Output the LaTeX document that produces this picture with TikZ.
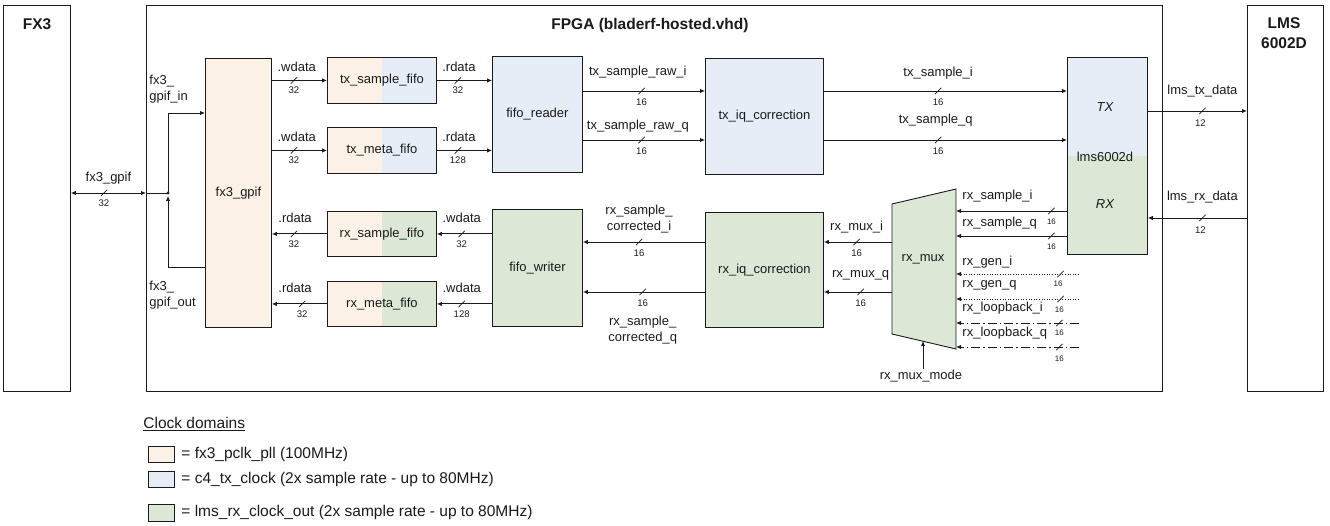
\documentclass[tikz,border=0pt]{standalone}
\usepackage{fontspec}
\setmainfont{Liberation Sans}
\usetikzlibrary{arrows.meta}
\definecolor{cO}{HTML}{FCF1E6}
\definecolor{cB}{HTML}{E6EDF7}
\definecolor{cG}{HTML}{DCE8D5}
\definecolor{ink}{HTML}{1A1A1A}
\newcommand\lblf{\fontsize{13}{16}\selectfont}
\newcommand\numf{\fontsize{9.6}{11}\selectfont}
\newcommand\snumf{\fontsize{8}{9}\selectfont}
\newcommand\ttlf{\fontsize{15.5}{20}\selectfont\bfseries}
\newcommand\lgdf{\fontsize{15.5}{18}\selectfont}
\newcommand\slsh{\rule{0.7pt}{9pt}}
\tikzset{
  blk/.style={draw=ink, anchor=north west, inner sep=0pt, align=center, text=ink},
  splitOB/.style={fill=cO, path picture={\fill[cB] (path picture bounding box.north) rectangle (path picture bounding box.south east);}},
  splitOG/.style={fill=cO, path picture={\fill[cG] (path picture bounding box.north) rectangle (path picture bounding box.south east);}},
  splitBG/.style={fill=cG, path picture={\fill[cB] (path picture bounding box.north west) rectangle (path picture bounding box.east);}},
  sig/.style={draw=ink, -{Latex[length=5pt,width=4.5pt]}},
  lab/.style={inner sep=0pt, font=\lblf, text=ink},
  num/.style={inner sep=0pt, font=\numf, text=ink},
  snum/.style={inner sep=0pt, font=\snumf, text=ink},
  slash/.style={inner sep=0pt, rotate=-45, text=ink},
  dotw/.style={dash pattern=on 1pt off 1.6pt},
  dashdotw/.style={dash pattern=on 9pt off 3pt on 1.5pt off 3pt},
}
\begin{document}
\begin{tikzpicture}[x=1pt, y=-1pt, line width=0.9pt, font=\lblf]
\useasboundingbox (0,0) rectangle (1330,526);

% outer boxes
\node[blk, minimum width=67pt, minimum height=386pt] (fx3box) at (3,5) {};
\node[blk, minimum width=1016pt, minimum height=386pt] (fpga) at (146,5) {};
\node[blk, minimum width=76pt, minimum height=386pt] (lmsbox) at (1247,5) {};
\node[font=\ttlf, text=ink] (tfx3) at (37,24) {FX3};
\node[font=\ttlf, text=ink] (tfpga) at (650,25) {FPGA (bladerf-hosted.vhd)};
\node[font=\ttlf, text=ink, align=center] (tlms) at (1284,33) {LMS\\6002D};

% inner blocks
\node[blk, fill=cO, minimum width=66pt, minimum height=269pt] (fxg) at (205,58) {fx3\_gpif};
\node[blk, splitOB, minimum width=109pt, minimum height=46pt] (txs) at (327,57) {tx\_sample\_fifo};
\node[blk, splitOB, minimum width=109pt, minimum height=46pt] (txm) at (327,127) {tx\_meta\_fifo};
\node[blk, splitOG, minimum width=109pt, minimum height=45pt] (rxs) at (327,211) {rx\_sample\_fifo};
\node[blk, splitOG, minimum width=109pt, minimum height=45pt] (rxm) at (327,281) {rx\_meta\_fifo};
\node[blk, fill=cB, minimum width=90pt, minimum height=116pt] (fr) at (492,56) {fifo\_reader};
\node[blk, fill=cG, minimum width=90pt, minimum height=117pt] (fw) at (492,209) {fifo\_writer};
\node[blk, fill=cB, minimum width=118pt, minimum height=116pt] (tiq) at (705,58) {tx\_iq\_correction};
\node[blk, fill=cG, minimum width=118pt, minimum height=115pt] (riq) at (705,212) {rx\_iq\_correction};
\node[blk, splitBG, minimum width=80pt, minimum height=197pt] (lms) at (1067,57) {};
\node[lab, font=\lblf\itshape] (ltx) at (1105,107) {TX};
\node[lab] (lname) at (1105,157) {lms6002d};
\node[lab, font=\lblf\itshape] (lrx) at (1105,204) {RX};

% rx_mux trapezoid
\draw[draw=ink, fill=cG] (892,204) -- (956,189) -- (956,349) -- (892,334) -- cycle;
\node[lab] (mux) at (923,259) {rx\_mux};
\coordinate (muxR) at (956,260);
\coordinate (muxL) at (892,260);
\coordinate (src) at (1079,300);
\coordinate (mbot) at (923,341);

% FX3 <-> FPGA
\coordinate (J) at (168,193);
\draw[draw=ink, {Latex[length=5pt,width=4.5pt]}-{Latex[length=5pt,width=4.5pt]}] (fx3box.east |- J) -- node[lab,pos=.5,yshift=15pt]{fx3\_gpif} node[slash,pos=.44]{\slsh} node[num,pos=.44,yshift=-10pt]{32} (fpga.west |- J);
\draw[draw=ink] (fpga.west |- J) -- (J);
\fill[ink] (J) circle (1.6pt);
\draw[sig] (J) |- (fxg.west |- 0,113);
\draw[sig, shorten >=3pt] (fxg.west |- 0,267) -| (J);
\node[lab, anchor=west, align=left] (gin) at (149,89) {fx3\_\\gpif\_in};
\node[lab, anchor=west, align=left] (gout) at (149,295) {fx3\_\\gpif\_out};

% fx3_gpif <-> fifos
\draw[sig] (fxg.east |- txs.west) -- node[lab,pos=.45,yshift=14pt]{.wdata} node[slash,pos=.4]{\slsh} node[num,pos=.4,yshift=-10pt]{32} (txs.west);
\draw[sig] (fxg.east |- txm.west) -- node[lab,pos=.45,yshift=14pt]{.wdata} node[slash,pos=.4]{\slsh} node[num,pos=.4,yshift=-10pt]{32} (txm.west);
\draw[sig] (rxs.west) -- node[lab,pos=.58,yshift=16pt]{.rdata} node[slash,pos=.6]{\slsh} node[num,pos=.6,yshift=-10pt]{32} (fxg.east |- rxs.west);
\draw[sig] (rxm.west) -- node[lab,pos=.58,yshift=16pt]{.rdata} node[slash,pos=.45]{\slsh} node[num,pos=.45,yshift=-10pt]{32} (fxg.east |- rxm.west);

% fifos <-> reader/writer
\draw[sig] (txs.east) -- node[lab,pos=.4,yshift=14pt]{.rdata} node[slash,pos=.38]{\slsh} node[num,pos=.38,yshift=-10pt]{32} (fr.west |- txs.east);
\draw[sig] (txm.east) -- node[lab,pos=.4,yshift=14pt]{.rdata} node[slash,pos=.38]{\slsh} node[num,pos=.38,yshift=-10pt]{128} (fr.west |- txm.east);
\draw[sig] (fw.west |- rxs.east) -- node[lab,pos=.55,yshift=16pt]{.wdata} node[slash,pos=.55]{\slsh} node[num,pos=.55,yshift=-10pt]{32} (rxs.east);
\draw[sig] (fw.west |- rxm.east) -- node[lab,pos=.55,yshift=16pt]{.wdata} node[slash,pos=.55]{\slsh} node[num,pos=.55,yshift=-10pt]{128} (rxm.east);

% TX path
\draw[sig] (fr.east |- 0,91) -- node[lab,pos=.45,yshift=19pt]{tx\_sample\_raw\_i} node[slash,pos=.48]{\slsh} node[num,pos=.48,yshift=-11pt]{16} (tiq.west |- 0,91);
\draw[sig] (fr.east |- 0,140) -- node[lab,pos=.45,yshift=14pt]{tx\_sample\_raw\_q} node[slash,pos=.48]{\slsh} node[num,pos=.48,yshift=-11pt]{16} (tiq.west |- 0,140);
\draw[sig] (tiq.east |- 0,91) -- node[lab,pos=.47,yshift=18pt]{tx\_sample\_i} node[slash,pos=.47]{\slsh} node[num,pos=.47,yshift=-11pt]{16} (lms.west |- 0,91);
\draw[sig] (tiq.east |- 0,140) -- node[lab,pos=.46,yshift=20pt]{tx\_sample\_q} node[slash,pos=.47]{\slsh} node[num,pos=.47,yshift=-11pt]{16} (lms.west |- 0,140);
\draw[sig] (lms.east |- 0,111) -- node[lab,pos=.55,yshift=20pt]{lms\_tx\_data} node[slash,pos=.55]{\slsh} node[num,pos=.53,yshift=-12pt]{12} (lmsbox.west |- 0,111);
\draw[sig] (lmsbox.west |- 0,218) -- node[lab,pos=.45,yshift=21pt]{lms\_rx\_data} node[slash,pos=.45]{\slsh} node[num,pos=.47,yshift=-12pt]{12} (lms.east |- 0,218);

% RX path
\draw[sig] (muxL |- 0,242) -- node[lab,pos=.52,yshift=15pt]{rx\_mux\_i} node[slash,pos=.52]{\slsh} node[num,pos=.52,yshift=-11pt]{16} (riq.east |- 0,242);
\draw[sig] (muxL |- 0,292) -- node[lab,pos=.46,yshift=17pt]{rx\_mux\_q} node[slash,pos=.46]{\slsh} node[num,pos=.46,yshift=-11pt]{16} (riq.east |- 0,292);
\draw[sig] (riq.west |- 0,242) -- node[lab,pos=.54,yshift=23pt,align=center]{rx\_sample\_\\corrected\_i} node[slash,pos=.54]{\slsh} node[num,pos=.54,yshift=-11pt]{16} (fw.east |- 0,242);
\draw[sig] (riq.west |- 0,292) -- node[slash,pos=.51]{\slsh} node[num,pos=.51,yshift=-11pt]{16} node[lab,pos=.51,yshift=-38pt,align=center]{rx\_sample\_\\corrected\_q} (fw.east |- 0,292);

% mux inputs
\draw[sig] (lms.west |- 0,211) -- node[slash,pos=.14]{\slsh} node[snum,pos=.14,yshift=-11pt]{16} node[lab,pos=1,anchor=west,xshift=6pt,yshift=15pt]{rx\_sample\_i} (muxR |- 0,211);
\draw[sig] (lms.west |- 0,236) -- node[slash,pos=.14]{\slsh} node[snum,pos=.14,yshift=-11pt]{16} node[lab,pos=1,anchor=west,xshift=6pt,yshift=13pt]{rx\_sample\_q} (muxR |- 0,236);
\draw[sig, dotw] (src |- 0,274) -- node[slash,pos=.15]{\slsh} node[snum,pos=.17,yshift=-10pt]{16} node[lab,pos=1,anchor=west,xshift=6pt,yshift=12pt]{rx\_gen\_i} (muxR |- 0,274);
\draw[sig, dotw] (src |- 0,299) -- node[slash,pos=.15]{\slsh} node[snum,pos=.16,yshift=-11pt]{16} node[lab,pos=1,anchor=west,xshift=6pt,yshift=14pt]{rx\_gen\_q} (muxR |- 0,299);
\draw[sig, dashdotw] (src |- 0,323) -- node[slash,pos=.16]{\slsh} node[snum,pos=.16,yshift=-10pt]{16} node[lab,pos=1,anchor=west,xshift=6pt,yshift=15pt]{rx\_loopback\_i} (muxR |- 0,323);
\draw[sig, dashdotw] (src |- 0,347) -- node[slash,pos=.16]{\slsh} node[snum,pos=.16,yshift=-12pt]{16} node[lab,pos=1,anchor=west,xshift=6pt,yshift=14pt]{rx\_loopback\_q} (muxR |- 0,347);

% mux mode
\node[lab, inner sep=1pt] (mode) at (921,376) {rx\_mux\_mode};
\draw[sig] (mode.north -| mbot) -- (mbot);

% legend
\node[lab, font=\lgdf, anchor=west] (cdt) at (143,424) {\underline{Clock domains}};
\node[blk, fill=cO, minimum width=26pt, minimum height=16pt] (lgO) at (148,446) {};
\node[lab, font=\lgdf, anchor=west] (lgOt) at (181,454) {= fx3\_pclk\_pll (100MHz)};
\node[blk, fill=cB, minimum width=26pt, minimum height=16pt] (lgB) at (148,471) {};
\node[lab, font=\lgdf, anchor=west] (lgBt) at (181,479) {= c4\_tx\_clock (2x sample rate - up to 80MHz)};
\node[blk, fill=cG, minimum width=26pt, minimum height=17pt] (lgG) at (148,504) {};
\node[lab, font=\lgdf, anchor=west] (lgGt) at (181,512) {= lms\_rx\_clock\_out (2x sample rate - up to 80MHz)};
\end{tikzpicture}
\end{document}
